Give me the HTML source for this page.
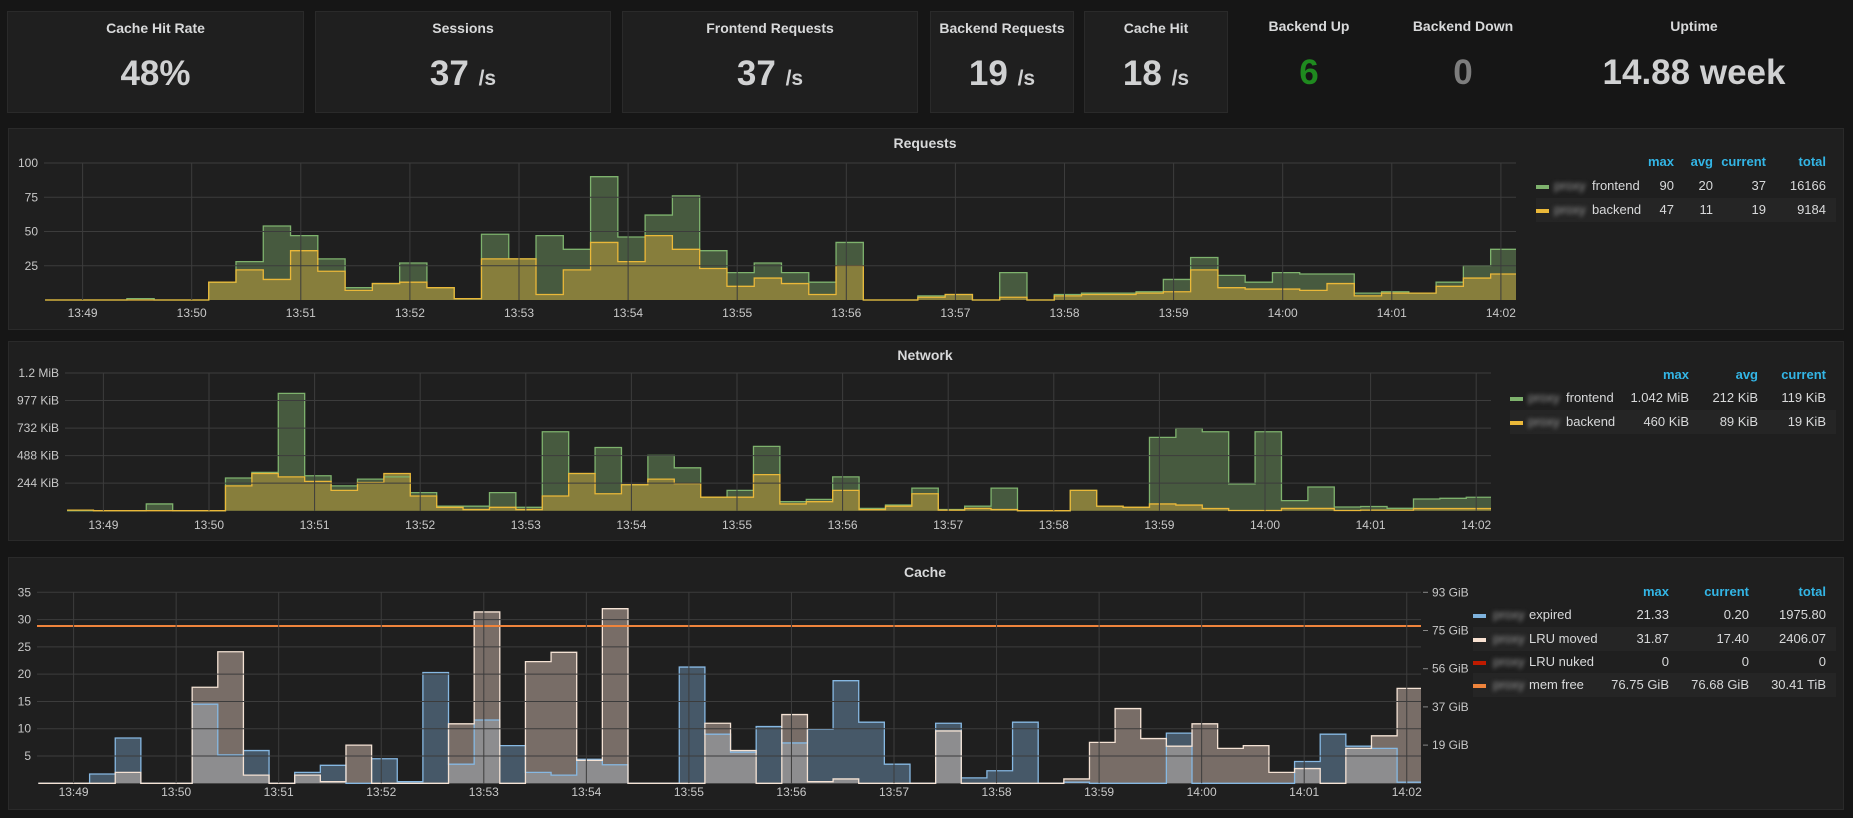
<!DOCTYPE html>
<html><head><meta charset="utf-8"><style>
body{margin:0;background:#161616;width:1853px;height:818px;overflow:hidden;font-family:"Liberation Sans",sans-serif;position:relative}
.panel{position:absolute;background:#1f1f1f;border:1px solid #2a2a2a;box-sizing:border-box}
.stat-title{position:absolute;left:0;right:0;text-align:center;top:8px;font-size:14px;font-weight:bold;color:#d8d9da}
.stat-val{position:absolute;left:0;right:0;text-align:center;top:42px;font-size:35px;font-weight:bold;color:#d0d1d2}
.stat-val small{font-size:21px}
.free{position:absolute}
.legend{position:absolute;font-size:13px;color:#d8d9da}
.lrow{position:absolute;height:24px;line-height:24px}
.lh{position:absolute;color:#33b5e5;font-weight:bold;text-align:right}
.lv{position:absolute;text-align:right}
.sw{position:absolute;width:13px;height:4px;top:11px}
.blur{position:absolute;color:#999;filter:blur(2px)}
svg{position:absolute;left:0;top:0}
</style></head><body>
<div class="panel" style="left:7px;top:11px;width:297px;height:102px"><div class="stat-title">Cache Hit Rate</div><div class="stat-val">48%</div></div>
<div class="panel" style="left:315px;top:11px;width:296px;height:102px"><div class="stat-title">Sessions</div><div class="stat-val">37 <small>/s</small></div></div>
<div class="panel" style="left:622px;top:11px;width:296px;height:102px"><div class="stat-title">Frontend Requests</div><div class="stat-val">37 <small>/s</small></div></div>
<div class="panel" style="left:930px;top:11px;width:144px;height:102px"><div class="stat-title">Backend Requests</div><div class="stat-val">19 <small>/s</small></div></div>
<div class="panel" style="left:1084px;top:11px;width:144px;height:102px"><div class="stat-title">Cache Hit</div><div class="stat-val">18 <small>/s</small></div></div>
<div class="free" style="left:1239px;top:11px;width:140px;height:102px"><div class="stat-title" style="top:7px">Backend Up</div><div class="stat-val" style="color:#1f8a1f;top:42px">6</div></div>
<div class="free" style="left:1393px;top:11px;width:140px;height:102px"><div class="stat-title" style="top:7px">Backend Down</div><div class="stat-val" style="color:#7d7d7d;top:42px">0</div></div>
<div class="free" style="left:1544px;top:11px;width:300px;height:102px"><div class="stat-title" style="top:7px">Uptime</div><div class="stat-val" style="top:42px">14.88 week</div></div>

<div class="panel" style="left:8px;top:128px;width:1836px;height:202px"></div>
<div class="panel" style="left:8px;top:341px;width:1836px;height:200px"></div>
<div class="panel" style="left:8px;top:557px;width:1836px;height:253px"></div>

<div class="legend" style="left:0;top:0">
 <div class="lh" style="left:1620px;top:154px;width:54px">max</div>
 <div class="lh" style="left:1673px;top:154px;width:40px">avg</div>
 <div class="lh" style="left:1700px;top:154px;width:66px">current</div>
 <div class="lh" style="left:1770px;top:154px;width:56px">total</div>
 <div class="lrow" style="left:1536px;top:174px;width:300px">
  <div class="sw" style="left:0;background:#7eb26d"></div><div class="blur" style="left:18px">proxy</div><div style="position:absolute;left:56px">frontend</div>
  <div class="lv" style="right:162px">90</div><div class="lv" style="right:123px">20</div><div class="lv" style="right:70px">37</div><div class="lv" style="right:10px">16166</div></div>
 <div class="lrow" style="left:1536px;top:198px;width:300px;background:#252525">
  <div class="sw" style="left:0;background:#eab839"></div><div class="blur" style="left:18px">proxy</div><div style="position:absolute;left:56px">backend</div>
  <div class="lv" style="right:162px">47</div><div class="lv" style="right:123px">11</div><div class="lv" style="right:70px">19</div><div class="lv" style="right:10px">9184</div></div>
</div>
<div class="legend" style="left:0;top:0">
 <div class="lh" style="left:1620px;top:367px;width:69px">max</div>
 <div class="lh" style="left:1700px;top:367px;width:58px">avg</div>
 <div class="lh" style="left:1760px;top:367px;width:66px">current</div>
 <div class="lrow" style="left:1510px;top:386px;width:326px">
  <div class="sw" style="left:0;background:#7eb26d"></div><div class="blur" style="left:18px">proxy</div><div style="position:absolute;left:56px">frontend</div>
  <div class="lv" style="right:147px">1.042 MiB</div><div class="lv" style="right:78px">212 KiB</div><div class="lv" style="right:10px">119 KiB</div></div>
 <div class="lrow" style="left:1510px;top:410px;width:326px;background:#252525">
  <div class="sw" style="left:0;background:#eab839"></div><div class="blur" style="left:18px">proxy</div><div style="position:absolute;left:56px">backend</div>
  <div class="lv" style="right:147px">460 KiB</div><div class="lv" style="right:78px">89 KiB</div><div class="lv" style="right:10px">19 KiB</div></div>
</div>
<div class="legend" style="left:0;top:0">
 <div class="lh" style="left:1620px;top:584px;width:49px">max</div>
 <div class="lh" style="left:1680px;top:584px;width:69px">current</div>
 <div class="lh" style="left:1770px;top:584px;width:56px">total</div>
 <div class="lrow" style="left:1473px;top:603px;width:363px">
  <div class="sw" style="left:0;background:#7eb2dd"></div><div class="blur" style="left:20px">proxy</div><div style="position:absolute;left:56px">expired</div>
  <div class="lv" style="right:167px">21.33</div><div class="lv" style="right:87px">0.20</div><div class="lv" style="right:10px">1975.80</div></div>
 <div class="lrow" style="left:1473px;top:627px;width:363px;background:#252525">
  <div class="sw" style="left:0;background:#f9e2d2"></div><div class="blur" style="left:20px">proxy</div><div style="position:absolute;left:56px">LRU moved</div>
  <div class="lv" style="right:167px">31.87</div><div class="lv" style="right:87px">17.40</div><div class="lv" style="right:10px">2406.07</div></div>
 <div class="lrow" style="left:1473px;top:650px;width:363px">
  <div class="sw" style="left:0;background:#bf1b00"></div><div class="blur" style="left:20px">proxy</div><div style="position:absolute;left:56px">LRU nuked</div>
  <div class="lv" style="right:167px">0</div><div class="lv" style="right:87px">0</div><div class="lv" style="right:10px">0</div></div>
 <div class="lrow" style="left:1473px;top:673px;width:363px;background:#252525">
  <div class="sw" style="left:0;background:#ef843c"></div><div class="blur" style="left:20px">proxy</div><div style="position:absolute;left:56px">mem free</div>
  <div class="lv" style="right:167px">76.75 GiB</div><div class="lv" style="right:87px">76.68 GiB</div><div class="lv" style="right:10px">30.41 TiB</div></div>
</div>

<svg id="charts" width="1853" height="818" font-family="Liberation Sans, sans-serif"></svg>
<script>
const timeLabels=['13:49','13:50','13:51','13:52','13:53','13:54','13:55','13:56','13:57','13:58','13:59','14:00','14:01','14:02'];
const reqTicks=[25,50,75,100];
const reqFrontend=[0,0,0,1,0,0,13,28,54,47,30,9,12,27,9,1,48,30,47,37,90,46,62,76,36,20,27,20,13,42,0,0,3,4,0,20,0,4,5,5,6,15,31,18,13,20,19,19,5,6,5,13,25,37];
const reqBackend=[0,0,0,0,0,0,13,22,15,36,21,7,12,13,9,1,30,30,4,22,42,28,47,37,23,10,16,12,4,25,0,0,2,4,0,2,0,3,4,4,5,6,22,9,8,8,7,12,3,5,5,10,16,19];
const netTickValues=[244.1,488.3,732.4,976.6,1220.7];
const netTickLabels=['244 KiB','488 KiB','732 KiB','977 KiB','1.2 MiB'];
const netFrontend=[0,0,0,60,0,0,290,340,1040,310,220,280,300,160,40,40,160,30,700,330,560,230,490,380,120,180,570,80,100,300,20,50,200,10,40,200,0,0,180,40,30,650,730,700,237,700,89,210,33,37,21,104,110,119];
const netBackend=[5,0,0,0,0,0,220,330,300,260,180,250,330,130,30,10,30,10,130,330,150,230,280,240,120,120,320,60,80,180,10,40,150,5,20,10,0,0,180,40,30,60,50,19,2,2,20,20,2,5,5,19,19,19];
const cacheTicks=[5,10,15,20,25,30,35];
const cacheRightTicks=['19 GiB','37 GiB','56 GiB','75 GiB','93 GiB'];
const cacheExpired=[0,0,1.7,8.3,0,0,14.5,5.2,6,0,2,3.3,0,4.5,0.3,20.3,3.5,11.6,6.9,2,1.5,4.4,3.4,0,0,21.3,9,5.7,10.4,7.4,9.9,18.8,11.2,3.5,0,11,1,2.3,11.2,0,0.2,0,0,0,9.2,0,0,0,0,4,9,6.8,6.4,0.2];
const cacheLruMoved=[0,0,0,2,0,0,17.6,24.1,1.5,0,1.5,0.3,7,0,0,0,10.9,31.4,0,22.3,24,4.2,32,0,0,0,11,6,0,12.6,0.3,0.8,0,0,0,9.6,0,0,0,0,0.8,7.5,13.7,8.2,6.8,10.9,6.4,6.9,2,2.7,0,6.4,8.7,17.4];
const cacheMemFree=[76.68];

const NS='http://www.w3.org/2000/svg';
const svg=document.getElementById('charts');
const T0=-0.344, STEP=0.25;
function mk(tag,attrs,parent){const e=document.createElementNS(NS,tag);for(const k in attrs)e.setAttribute(k,attrs[k]);(parent||svg).appendChild(e);return e;}
function stepPath(vals,xf,yf,base,closed){let d='';vals.forEach((v,i)=>{const x0=xf(T0+STEP*i),x1=xf(T0+STEP*(i+1)),y=yf(v);d+=(i===0?(closed?'M'+x0+','+base+'L'+x0+','+y:'M'+x0+','+y):'L'+x0+','+y)+'L'+x1+','+y;});if(closed)d+='L'+xf(T0+STEP*vals.length)+','+base+'Z';return d;}
function clip(id,x,y,w,h){const c=mk('clipPath',{id:id});mk('rect',{x:x,y:y,width:w,height:h},c);}

function chart(o){
  clip(o.id,o.left,o.top-2,o.right-o.left,o.base-o.top+3);
  const g=mk('g',{'clip-path':'url(#'+o.id+')'});
  
  
  o.yTicks.forEach((v,k)=>{const y=o.yf(v);
    const l=mk('line',{x1:o.left,x2:o.right,y1:y,y2:y,stroke:'#3c3c3c','stroke-width':1});
    
    
    const t=mk('text',{x:o.left-6,y:y+4,'text-anchor':'end','font-size':12,fill:'#c8c8c8'});
    
    
    t.textContent=o.yLabels[k];});
  timeLabels.forEach((lab,k)=>{const x=o.xf(k);
    const l=mk('line',{x1:x,x2:x,y1:o.top,y2:o.base,stroke:'#3c3c3c','stroke-width':1});
    
    
    const t=mk('text',{x:x,y:o.labelY,'text-anchor':'middle','font-size':12,fill:'#c8c8c8'});
    
    
    t.textContent=lab;});
  const tt=mk('text',{x:925,y:o.titleY,'text-anchor':'middle','font-size':14,'font-weight':'bold',fill:'#d8d9da'});
  
  
  tt.textContent=o.title;
  o.series.forEach(s=>{
    const a=mk('path',{d:stepPath(s.vals,o.xf,o.yf,o.base,true),fill:s.fill,stroke:'none'},g);
    
    
  });
  if(o.overlap){const mins=o.series[0].vals.map((v,i)=>Math.min(v,o.series[1].vals[i]));
    const a=mk('path',{d:stepPath(mins,o.xf,o.yf,o.base,true),fill:o.overlap,stroke:'none'},g);
    
    }
  o.series.forEach(s=>{
    const l=mk('path',{d:stepPath(s.vals,o.xf,o.yf,o.base,false),fill:'none',stroke:s.line,'stroke-width':1.3},g);
    
    
  });
  return g;
}

chart({id:'requests',title:'Requests',titleY:148,left:44,right:1516,top:163,base:300,labelY:317,
  xf:t=>82.6+109.1*t, yf:v=>300-v*1.37, yTicks:reqTicks, yLabels:reqTicks.map(String),
  series:[{name:'frontend',vals:reqFrontend,fill:'#475a3f',line:'#7eb26d'},{name:'backend',vals:reqBackend,fill:'#877e3c',line:'#eab839'}]});

chart({id:'network',title:'Network',titleY:360,left:65,right:1491,top:373,base:510.7,labelY:529,
  xf:t=>103.4+105.6*t, yf:v=>510.7-v*(137.7/1220.7), yTicks:netTickValues, yLabels:netTickLabels,
  series:[{name:'frontend',vals:netFrontend,fill:'#475a3f',line:'#7eb26d'},{name:'backend',vals:netBackend,fill:'#877e3c',line:'#eab839'}]});

const cy=v=>783.3-v*5.457;
const cg=chart({id:'cache',title:'Cache',titleY:577,left:37,right:1421,top:592,base:783.3,labelY:796,
  xf:t=>73.6+102.55*t, yf:cy, yTicks:cacheTicks, yLabels:cacheTicks.map(String), overlap:'#8d8d8f',
  series:[{name:'expired',vals:cacheExpired,fill:'#465868',line:'#86b8e2'},{name:'lru-moved',vals:cacheLruMoved,fill:'#786d67',line:'#f4e2d4'}]});
const gy=v=>783.3-v*(191/93.1);
cacheRightTicks.forEach((lab,k)=>{const y=783.3-(k+1)*38.2;
  const tk=mk('line',{x1:1423,x2:1428,y1:y,y2:y,stroke:'#888'});
  
  
  const t=mk('text',{x:1432,y:y+4,'font-size':12,fill:'#c8c8c8'});
  
  
  t.textContent=lab;});
cacheMemFree.forEach(v=>{const y=gy(v);
  const l=mk('line',{x1:37,x2:1421,y1:y,y2:y,stroke:'#ef843c','stroke-width':2},cg);
  
  });
</script>
</body></html>
